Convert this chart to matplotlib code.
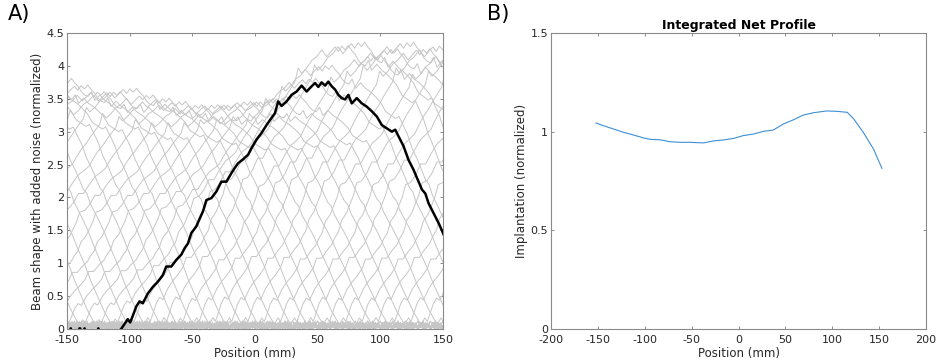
import numpy as np
import matplotlib
matplotlib.use("Agg")
import matplotlib.pyplot as plt
from matplotlib.ticker import FuncFormatter

plt.rcParams['font.family'] = ['DejaVu Sans']
plt.rcParams['axes.unicode_minus'] = False

# ---------------- Panel A data ----------------
# highlighted beam profile (black curve), position in mm -> normalized value
beam_x = [-106.8, -101.5, -99.6, -97.5, -94.8, -92.1, -89.5, -85.5, -81.5, -77.5,
          -73.5, -70.8, -66.8, -62.8, -58.8, -56.1, -53.5, -50.8, -46.8, -44.1,
          -41.5, -38.8, -34.8, -30.8, -26.8, -22.8, -18.8, -16.1, -13.5, -9.5,
          -5.5, -2.8, 1.2, 5.2, 9.2, 13.2, 15.9, 18.5, 21.2, 25.2,
          29.2, 33.2, 37.2, 41.2, 45.2, 47.9, 50.5, 53.2, 55.9, 58.5,
          61.2, 63.9, 66.5, 69.2, 71.9, 74.5, 77.2, 81.2, 85.2, 89.2,
          93.2, 97.2, 101.2, 105.2, 109.2, 111.9, 114.5, 118.5, 122.5, 126.5,
          130.5, 133.2, 135.9, 138.5, 142.5, 146.5, 150.0, 155.0, 160.0, 165.0,
          170.0, 175.0, 180.0, 184.0]
beam_y = [0.00, 0.15, 0.10, 0.20, 0.34, 0.42, 0.39, 0.54, 0.64, 0.72,
          0.82, 0.95, 0.95, 1.05, 1.13, 1.23, 1.30, 1.46, 1.56, 1.68,
          1.79, 1.96, 1.99, 2.09, 2.24, 2.24, 2.37, 2.45, 2.52, 2.58,
          2.65, 2.75, 2.88, 2.98, 3.10, 3.21, 3.28, 3.46, 3.39, 3.46,
          3.56, 3.61, 3.70, 3.61, 3.69, 3.74, 3.68, 3.75, 3.70, 3.76,
          3.69, 3.64, 3.56, 3.51, 3.49, 3.56, 3.43, 3.51, 3.43, 3.38,
          3.31, 3.23, 3.10, 3.05, 3.00, 3.03, 2.93, 2.78, 2.57, 2.42,
          2.24, 2.12, 2.06, 1.91, 1.76, 1.61, 1.46, 1.22, 1.00, 0.74,
          0.52, 0.30, 0.12, 0.00]

# noise floor of the beam outside its footprint (black curve, left side)
black_tail_x = [-150, -148, -147, -146, -141, -140, -139.5, -139, -137, -136, -135,
                -126, -125, -124, -110, -106.8]
black_tail_y = [-0.06, -0.06, 0.01, -0.06, -0.06, 0.01, 0.01, -0.06, -0.06, 0.01, -0.06,
                -0.06, 0.01, -0.06, -0.06, 0.00]

# shifted beam copies (grey curves): shift of the beam (mm) and peak height
gray_shift = [-335, -322, -309, -296, -283, -270, -257, -244, -231, -218,
              -205, -192, -179, -166, -153, -140, -127, -114, -101, -88,
              -75, -62, -49, -36, -23, -10, 3, 16, 29, 42,
              55, 68, 81, 94, 107, 120, 133, 146, 159, 172,
              185, 198, 211, 224, 237, 250]
gray_peak = [3.70, 3.70, 3.75, 3.70, 3.80, 3.75, 3.80, 3.85, 3.80, 3.75,
             3.80, 3.70, 3.60, 3.60, 3.65, 3.55, 3.50, 3.45, 3.40, 3.40,
             3.40, 3.45, 3.45, 3.50, 3.55, 3.80, 4.00, 4.30, 4.35, 4.15,
             4.25, 4.35, 4.25, 4.30, 4.20, 4.25, 4.20, 4.30, 4.20, 4.25,
             4.20, 4.30, 4.20, 4.25, 4.20, 4.20]

# noise floor samples (every 2 mm) of the grey curves outside the beam footprint
noise_vals = [0.03, 0.07, 0.01, 0.05, 0.09, 0.02, 0.06, 0.00, 0.08, 0.04,
              0.02, 0.06, 0.12, 0.03, 0.05, 0.01, 0.08, 0.04, 0.02, 0.07,
              0.00, 0.05, 0.03, 0.10, 0.02]

# ---------------- Panel B data ----------------
prof_x = [-152, -144, -133, -123, -112, -101, -94, -84, -73, -62,
          -52, -37, -27, -16, -5, 5, 16, 27, 37, 48,
          59, 69, 80, 94, 105, 116, 123, 133, 144, 153]
prof_y = [1.044, 1.030, 1.013, 0.997, 0.983, 0.968, 0.961, 0.959, 0.949, 0.946,
          0.946, 0.943, 0.953, 0.958, 0.966, 0.980, 0.988, 1.002, 1.008, 1.039,
          1.061, 1.084, 1.096, 1.105, 1.103, 1.098, 1.064, 0.997, 0.912, 0.814]

A_xticks = [-150, -100, -50, 0, 50, 100, 150]
A_yticks = [0, 0.5, 1, 1.5, 2, 2.5, 3, 3.5, 4, 4.5]
B_xticks = [-200, -150, -100, -50, 0, 50, 100, 150, 200]
B_yticks = [0, 0.5, 1, 1.5]

# ---------------- drawing ----------------
W, H = 936, 361
fig = plt.figure(figsize=(W / 100, H / 100), dpi=100)

spine_col = '#8a8a8a'
text_col = '#262626'
fmt = FuncFormatter(lambda v, p: '%g' % v)


def style(ax):
    for sp in ax.spines.values():
        sp.set_color(spine_col)
        sp.set_linewidth(0.8)
    ax.tick_params(direction='in', length=2.5, width=0.7, colors=spine_col,
                   labelcolor=text_col, labelsize=8, top=True, right=True, pad=2)
    ax.tick_params(axis='x', pad=4)
    ax.xaxis.set_major_formatter(fmt)
    ax.yaxis.set_major_formatter(fmt)


axA = fig.add_axes([67 / W, 32 / H, 376 / W, 296 / H])
bx = np.array(beam_x)
by = np.array(beam_y)
grid = np.arange(-150, 151, 2.0)
nv = np.array(noise_vals)
for i, (s, pk) in enumerate(zip(gray_shift, gray_peak)):
    sc = pk / 3.75
    xs = bx + s
    ys = by * sc
    left = grid[grid < xs[0]]
    right = grid[grid > xs[-1]]
    nl = np.resize(np.roll(nv, i * 7), len(left))
    nr = np.resize(np.roll(nv, i * 11), len(right))
    X = np.concatenate([left, xs, right])
    Y = np.concatenate([nl, ys, nr])
    axA.plot(X, Y, color='#c6c6c6', lw=0.7, zorder=2)
axA.plot(black_tail_x + beam_x, black_tail_y + beam_y, color='black', lw=1.8, zorder=3,
         solid_joinstyle='round')
axA.set_xlim(-150, 150)
axA.set_ylim(0, 4.5)
axA.set_xticks(A_xticks)
axA.set_yticks(A_yticks)
style(axA)
axA.set_xlabel('Position (mm)', fontsize=8.5, color=text_col, labelpad=1.5)
axA.set_ylabel('Beam shape with added noise (normalized)', fontsize=8.5, color=text_col, labelpad=2)

axB = fig.add_axes([551 / W, 32 / H, 375 / W, 296 / H])
axB.plot(prof_x, prof_y, color='#3d8fd6', lw=0.8)
axB.set_xlim(-200, 200)
axB.set_ylim(0, 1.5)
axB.set_xticks(B_xticks)
axB.set_yticks(B_yticks)
style(axB)
axB.set_xlabel('Position (mm)', fontsize=8.5, color=text_col, labelpad=1.5)
axB.set_ylabel('Implantation (normalized)', fontsize=8.5, color=text_col, labelpad=2)
axB.set_title('Integrated Net Profile', fontsize=9, fontweight='bold', color='black', pad=3)

fig.text(8 / W, 1 - 14 / H, 'A)', fontsize=15, color='black', va='center', ha='left')
fig.text(487 / W, 1 - 14 / H, 'B)', fontsize=15, color='black', va='center', ha='left')

fig.savefig('out.png', dpi=100)
